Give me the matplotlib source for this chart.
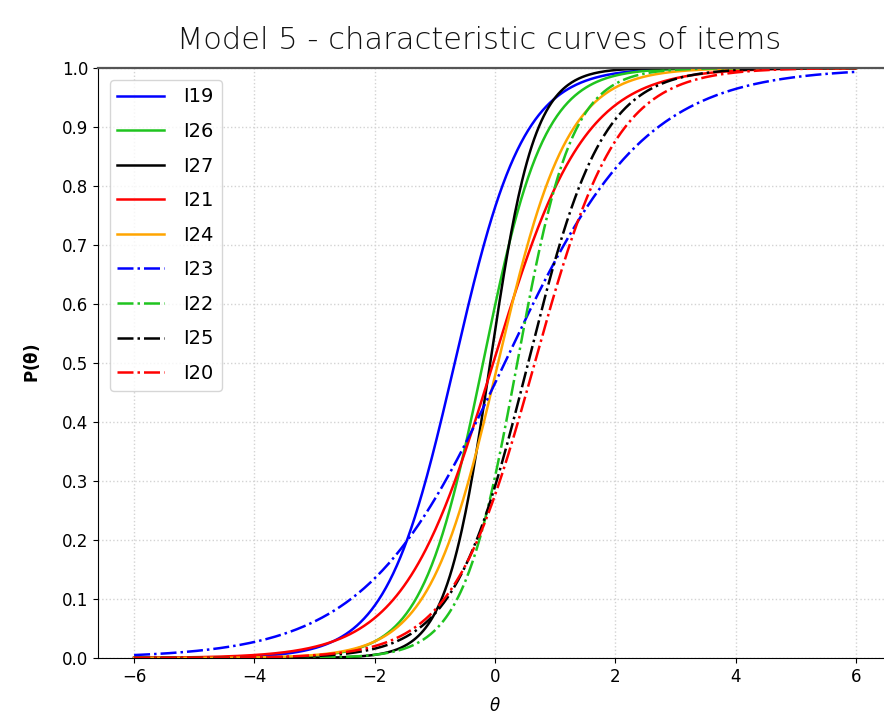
import numpy as np
import matplotlib
matplotlib.use('Agg')
from matplotlib import pyplot as plt

# item parameters (discrimination a, difficulty b)
items = ['I19', 'I26', 'I27', 'I21', 'I24', 'I23', 'I22', 'I25', 'I20']
discrimination = [1.75, 1.97, 2.72, 1.33, 1.73, 0.86, 2.2, 1.62, 1.46]
difficulty = [-0.67, -0.2, -0.08, -0.03, 0.05, 0.16, 0.37, 0.55, 0.66]

colors = ['blue', '#1fc41f', 'black', 'red', 'orange', 'blue', '#1fc41f', 'black', 'red']
styles = ['-', '-', '-', '-', '-', '-.', '-.', '-.', '-.']

theta = np.linspace(-6, 6, 600)

fig = plt.figure(figsize=(8.84, 7.19), dpi=100)
ax = fig.add_axes([98/884, 61/719, 794/884, 590/719])

for name, a, b, c, ls in zip(items, discrimination, difficulty, colors, styles):
    p = 1.0 / (1.0 + np.exp(-a * (theta - b)))
    ax.plot(theta, p, color=c, linestyle=ls, linewidth=1.8, label=name)

ax.set_xlim(-6.6, 6.6)
ax.set_ylim(0, 1)
ax.set_xticks([-6, -4, -2, 0, 2, 4, 6])
ax.set_yticks(np.arange(0, 1.01, 0.1))
ax.tick_params(labelsize=12)
ax.grid(True, linestyle=':', color='lightgray', linewidth=1)
ax.spines['right'].set_visible(False)
ax.spines['top'].set_color('#555555')
ax.spines['top'].set_linewidth(1.6)
ax.set_xlabel(r'$\theta$', fontsize=12, labelpad=8)
ax.set_ylabel(r'$\mathbf{P(\theta)}$', fontsize=12, fontweight='bold', labelpad=14)
ax.set_title('Model 5 - characteristic curves of items', fontsize=22,
             family='DejaVu Sans', fontweight='light', color='#111111',
             pad=14, x=0.48)
ax.legend(loc='upper left', fontsize=14, handlelength=2.4, handletextpad=1.0,
          labelspacing=0.8, borderaxespad=0.6)

fig.savefig('out.png', dpi=100)
